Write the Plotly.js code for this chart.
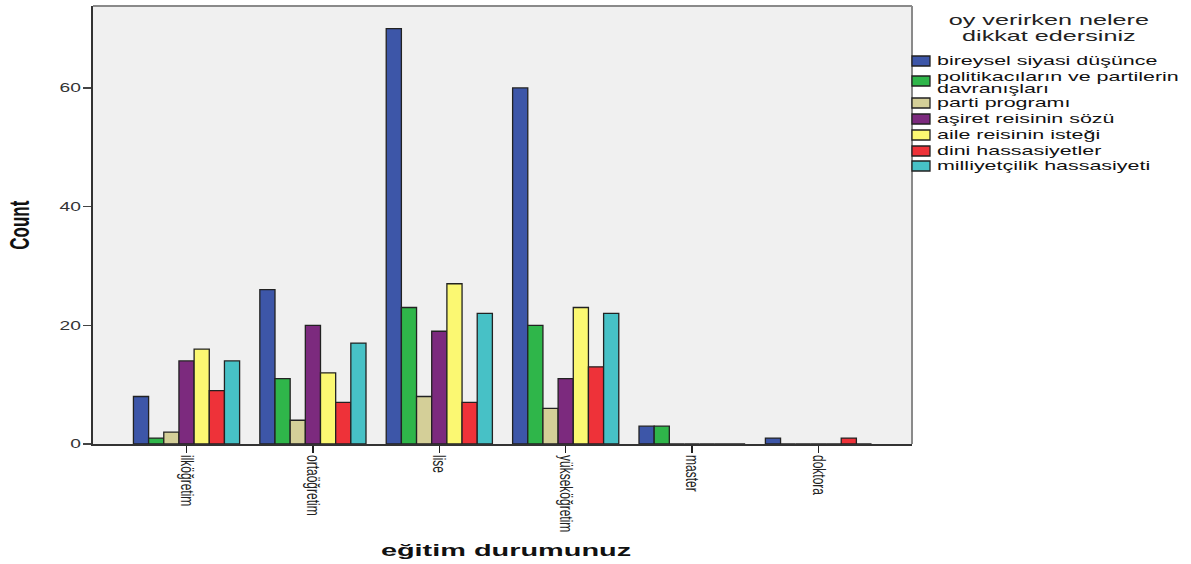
<!DOCTYPE html>
<html><head><meta charset="utf-8">
<script src="https://cdn.plot.ly/plotly-3.0.1.min.js"></script>
<style>body{margin:0;background:#fff;}</style>
</head><body>
<div id="chart" style="width:1191px;height:564px;"></div>
<script>
const categories = ["ilköğretim","ortaöğretim","lise","yükseköğretim","master","doktora"];
const seriesNames = ["bireysel siyasi düşünce","politikacıların ve partilerin<br>davranışları","parti programı","aşiret reisinin sözü","aile reisinin isteği","dini hassasiyetler","milliyetçilik hassasiyeti"];
const bireysel = [8,26,70,60,3,1];
const politikacilar = [1,11,23,20,3,0];
const partiProgrami = [2,4,8,6,0,0];
const asiret = [14,20,19,11,0,0];
const aile = [16,12,27,23,0,0];
const dini = [9,7,7,13,0,1];
const milliyetcilik = [14,17,22,22,0,0];
const seriesValues = [bireysel,politikacilar,partiProgrami,asiret,aile,dini,milliyetcilik];
const colors = ["#3d56a8","#2fb64a","#d4cf98","#7c2a7e","#fbf872","#ee3239","#47c1c6"];

const FONT = 'Liberation Sans, Arial, sans-serif';
const traces = seriesValues.map((v,i)=>({
  type:'bar', name:seriesNames[i], x:categories.map((c,k)=>k), y:v,
  marker:{color:colors[i], line:{color:'#222', width:1.3}},
  hoverinfo:'y'
}));

const layout = {
  width:1191, height:564,
  margin:{l:93, r:279, t:6, b:120, autoexpand:false},
  paper_bgcolor:'#ffffff', plot_bgcolor:'#f0f0f0',
  barmode:'group', bargap:0.16, bargroupgap:0,
  font:{family:FONT, color:'#222'},
  xaxis:{
    range:[-0.74,5.74], tickmode:'array', tickvals:[0,1,2,3,4,5], ticktext:categories,
    tickangle:90, ticks:'outside', ticklen:7, tickcolor:'#222', tickwidth:1.3,
    tickfont:{family:FONT, size:12, color:'#222'},
    showline:true, linecolor:'#333', linewidth:1.6, mirror:false, showgrid:false, zeroline:false,
    title:{text:'<b>eğitim durumunuz</b>', font:{family:FONT, size:17, color:'#111'}, standoff:30}
  },
  yaxis:{
    range:[0,73.8], tickvals:[0,20,40,60], ticks:'outside', ticklen:8, tickcolor:'#444', tickwidth:1.2,
    tickfont:{family:FONT, size:12, color:'#333'},
    showline:true, linecolor:'#333', linewidth:1.6, mirror:false, showgrid:false, zeroline:false,
    title:{text:'<b>Count</b>', font:{family:FONT, size:17, color:'#111'}, standoff:30}
  },
  shapes:[
    {type:'line', xref:'paper', yref:'paper', x0:0, x1:1, y0:1, y1:1, line:{color:'#8a8a8a', width:2}},
    {type:'line', xref:'paper', yref:'paper', x0:1, x1:1, y0:0, y1:1, line:{color:'#8a8a8a', width:2}}
  ],
  legend:{
    x:1.0, xanchor:'left', y:1.0, yanchor:'top',
    bgcolor:'rgba(0,0,0,0)', borderwidth:0,
    font:{family:FONT, size:13, color:'#111'},
    title:{text:'oy verirken nelere<br>dikkat edersiniz', side:'top center', font:{family:FONT, size:14, color:'#222'}},
    tracegroupgap:0, itemwidth:30, traceorder:'normal'
  },
  showlegend:true
};

function parseT(el){
  const t = el.getAttribute('transform') || '';
  const m = t.match(/translate\(\s*([-\d.e]+)[ ,]+([-\d.e]+)\s*\)/);
  return m ? [parseFloat(m[1]), parseFloat(m[2])] : [0,0];
}
function rect(el){ return el.getBoundingClientRect(); }
function center(el){ const r = rect(el); return [(r.left+r.right)/2, (r.top+r.bottom)/2]; }
function prepend(el, tr){ el.setAttribute('transform', tr + ' ' + (el.getAttribute('transform') || '')); }
function parentOffset(el){ const m = el.parentNode.getScreenCTM(); return [m.e, m.f]; }
function stretch(el, sx, ax){
  const px = ax - parentOffset(el)[0];
  prepend(el, `translate(${px},0) scale(${sx},1) translate(${-px},0)`);
}
function moveTo(el, cxT, cyT){
  const [cx, cy] = center(el);
  prepend(el, `translate(${cxT==null?0:cxT-cx},${cyT==null?0:cyT-cy})`);
}

Plotly.newPlot('chart', traces, layout, {displayModeBar:false, staticPlot:true}).then(gd=>{
  try {
    gd.querySelectorAll('.legend [clip-path]').forEach(e=>e.removeAttribute('clip-path'));
    gd.querySelectorAll('.legend').forEach(e=>e.removeAttribute('clip-path'));
    const SX = 1.65;
    const firstLineCenters = [60,76,102,118,134,150,165];
    const items = gd.querySelectorAll('.legend .traces');
    items.forEach((el,i)=>{
      const path = el.querySelector('.legendpoints path');
      if (path) path.setAttribute('d','M9,5H-9V-5H9Z');
      const txt = el.querySelector('.legendtext');
      const lines = txt.querySelectorAll('tspan.line');
      lines.forEach((ln,k)=>{ if (k>0) ln.setAttribute('dy','0.95em'); });
      const tr = parseT(el);
      const [sx] = center(path || el);
      el.setAttribute('transform', `translate(${tr[0] + 921 - sx},${tr[1]})`);
      const tl = rect(txt).left;
      const cur = parseFloat(txt.getAttribute('x')||'0') + (937 - tl);
      txt.setAttribute('x', cur);
      lines.forEach(ln=>ln.setAttribute('x', cur));
      const first = lines.length ? lines[0] : txt;
      const cy = center(first)[1];
      const tr2 = parseT(el);
      el.setAttribute('transform', `translate(${tr2[0]},${tr2[1] + firstLineCenters[i] - cy})`);
      if (path) {
        const pcy = center(path)[1];
        const pg = path.parentNode;
        const pt = parseT(pg);
        const target = firstLineCenters[i] + (lines.length > 1 ? 5 : 1);
        pg.setAttribute('transform', `translate(${pt[0]},${pt[1] + target - pcy})`);
      }
      stretch(txt, SX, 937);
    });
    const title = gd.querySelector('.legendtitletext');
    if (title) {
      title.setAttribute('text-anchor','middle');
      title.style.textAnchor = 'middle';
      const tl = title.querySelectorAll('tspan.line');
      tl.forEach((ln,k)=>{ if (k>0) ln.setAttribute('dy','1.15em'); });
      const ref = tl.length ? tl[0] : title;
      const cy = center(ref)[1];
      const cx = center(title)[0];
      prepend(title, `translate(${1049-cx},${20-cy})`);
      stretch(title, 1.8, 1049);
    }
    gd.querySelectorAll('.ytick text').forEach(t=>{
      const r = rect(t); stretch(t, 1.6, r.right);
    });
    gd.querySelectorAll('.xtick text').forEach(t=>{
      const [cx] = center(t); stretch(t, 1.5, cx);
    });
    const xt = gd.querySelector('.xtitle');
    if (xt) { moveTo(xt, 506, 551); stretch(xt, 1.7, 506); }
    const yt = gd.querySelector('.ytitle');
    if (yt) { moveTo(yt, 20, 225); stretch(yt, 1.6, 20); }
  } catch(e) { console.error(e); }
});
</script>
</body></html>
